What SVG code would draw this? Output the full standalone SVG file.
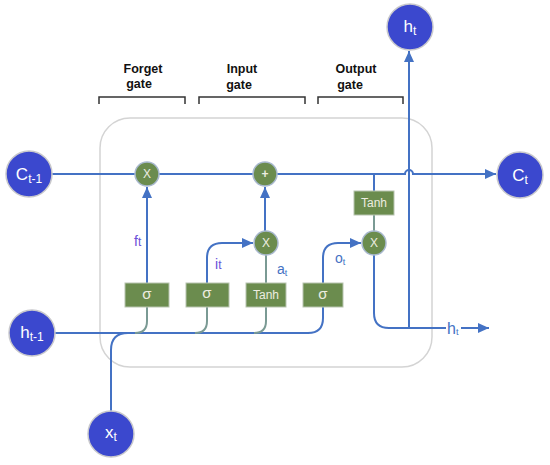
<svg xmlns="http://www.w3.org/2000/svg" width="550" height="465" viewBox="0 0 550 465">
<defs>
<marker id="arr" markerUnits="userSpaceOnUse" markerWidth="12" markerHeight="12" viewBox="0 0 12 12" refX="11" refY="6" orient="auto">
<path d="M0,1 L11,6 L0,11 Z" fill="#4472C4"/>
</marker>
<style>
.ln{fill:none;stroke:#4472C4;stroke-width:2}
.lg{fill:none;stroke:#7A9A94;stroke-width:2}
.node circle{fill:#3B48CE;stroke:#C8C8CC;stroke-width:1.5}
.node text{fill:#fff;font-family:"Liberation Sans",Arial,sans-serif;font-size:17px;text-anchor:middle}
.op circle{fill:#6B8C4E;stroke:#A9B9CF;stroke-width:1.5}
.op text{fill:#EDEDE0;font-family:"Liberation Sans",Arial,sans-serif;font-size:12px;text-anchor:middle}
.box rect{fill:#6B8C4E;stroke:#B8C4B0;stroke-width:1}
.box text{fill:#EDEDE0;font-family:"Liberation Sans",Arial,sans-serif;font-size:12px;text-anchor:middle}
.box text.s{font-size:15px}
.hdr{fill:#111;font-family:"Liberation Sans",Arial,sans-serif;font-size:12.5px;font-weight:bold;text-anchor:middle}
.br{fill:none;stroke:#333;stroke-width:1.5}
.lbp{fill:#6A4FD8;font-family:"Liberation Sans",Arial,sans-serif;font-size:14px}
.lbb{fill:#4472C4;font-family:"Liberation Sans",Arial,sans-serif;font-size:14px}
</style>
</defs>
<rect width="550" height="465" fill="#fff"/>
<rect x="100" y="118" width="332" height="249" rx="30" fill="none" stroke="#D4D4D4" stroke-width="1.5"/>

<g id="headers">
<path class="br" d="M99,104 V97 H185 V104"/>
<path class="br" d="M199,104 V97 H305 V104"/>
<path class="br" d="M318,104 V97 H403 V104"/>
<text class="hdr" x="143" y="73">Forget</text>
<text class="hdr" x="139" y="88">gate</text>
<text class="hdr" x="242" y="73">Input</text>
<text class="hdr" x="239" y="89">gate</text>
<text class="hdr" x="356" y="73">Output</text>
<text class="hdr" x="350" y="89">gate</text>
</g>

<g id="connectors">
<path class="ln" d="M52,174 H405 A4,4 0 0 1 413,174 H496" marker-end="url(#arr)"/>
<path class="ln" d="M409,328 V51" marker-end="url(#arr)"/>
<path class="ln" d="M55,333 H308 Q323,333 323,318 V307"/>
<path class="lg" d="M147,307 V321 Q147,333 135,333"/>
<path class="lg" d="M207,307 V321 Q207,333 195,333"/>
<path class="lg" d="M266,307 V321 Q266,333 254,333"/>
<path class="ln" d="M111,411 V350 Q111,333 128,333"/>
<path class="ln" d="M147,283 V187" marker-end="url(#arr)"/>
<path class="ln" d="M207,283 V258 Q207,243 222,243 H253" marker-end="url(#arr)"/>
<path class="lg" d="M266,283 V255"/>
<path class="ln" d="M265,231 V187" marker-end="url(#arr)"/>
<path class="ln" d="M323,283 V258 Q323,243 338,243 H361" marker-end="url(#arr)"/>
<path class="ln" d="M374,174 V191"/>
<path class="lg" d="M374,215 V231"/>
<path class="ln" d="M374,255 V313 Q374,328 389,328 H446"/>
<path class="ln" d="M461,328 H489" marker-end="url(#arr)"/>
<text class="lbp" x="134" y="246">f<tspan style="font-size:12px">t</tspan></text>
<text class="lbp" x="215" y="269">i<tspan style="font-size:12px">t</tspan></text>
<text class="lbb" x="277" y="274">a<tspan style="font-size:9px" dy="2">t</tspan></text>
<text class="lbb" x="335" y="263">o<tspan style="font-size:9px" dy="2">t</tspan></text>
<text class="lbb" x="447" y="334" style="font-size:16px">h<tspan style="font-size:9px" dy="1">t</tspan></text>
</g>

<g id="c_prev" class="node"><circle cx="29" cy="174" r="23"/><text x="29" y="180">C<tspan style="font-size:12px" dy="3">t-1</tspan></text></g>
<g id="c_t" class="node"><circle cx="520" cy="175" r="23"/><text x="520" y="181">C<tspan style="font-size:12px" dy="3">t</tspan></text></g>
<g id="h_t" class="node"><circle cx="410" cy="27" r="23"/><text x="410" y="32">h<tspan style="font-size:12px" dy="3">t</tspan></text></g>
<g id="h_prev" class="node"><circle cx="32" cy="333" r="23"/><text x="32" y="338">h<tspan style="font-size:12px" dy="3">t-1</tspan></text></g>
<g id="x_t" class="node"><circle cx="111" cy="434" r="23"/><text x="111" y="438">x<tspan style="font-size:12px" dy="3">t</tspan></text></g>

<g id="forget_mul" class="op"><circle cx="147" cy="174" r="12"/><text x="147" y="178">X</text></g>
<g id="add" class="op"><circle cx="265" cy="174" r="12"/><text x="265" y="178" font-weight="bold">+</text></g>
<g id="input_mul" class="op"><circle cx="266" cy="243" r="12"/><text x="266" y="247">X</text></g>
<g id="output_mul" class="op"><circle cx="374" cy="243" r="12"/><text x="374" y="247">X</text></g>

<g id="sigma_f" class="box"><rect x="125" y="283" width="44" height="24"/><text class="s" x="147" y="299">σ</text></g>
<g id="sigma_i" class="box"><rect x="186" y="283" width="43" height="24"/><text class="s" x="207" y="298">σ</text></g>
<g id="tanh_a" class="box"><rect x="246" y="283" width="40" height="24"/><text x="266" y="299">Tanh</text></g>
<g id="sigma_o" class="box"><rect x="303" y="283" width="40" height="24"/><text class="s" x="323" y="299">σ</text></g>
<g id="tanh_c" class="box"><rect x="354" y="191" width="40" height="24"/><text x="374" y="207">Tanh</text></g>
</svg>
